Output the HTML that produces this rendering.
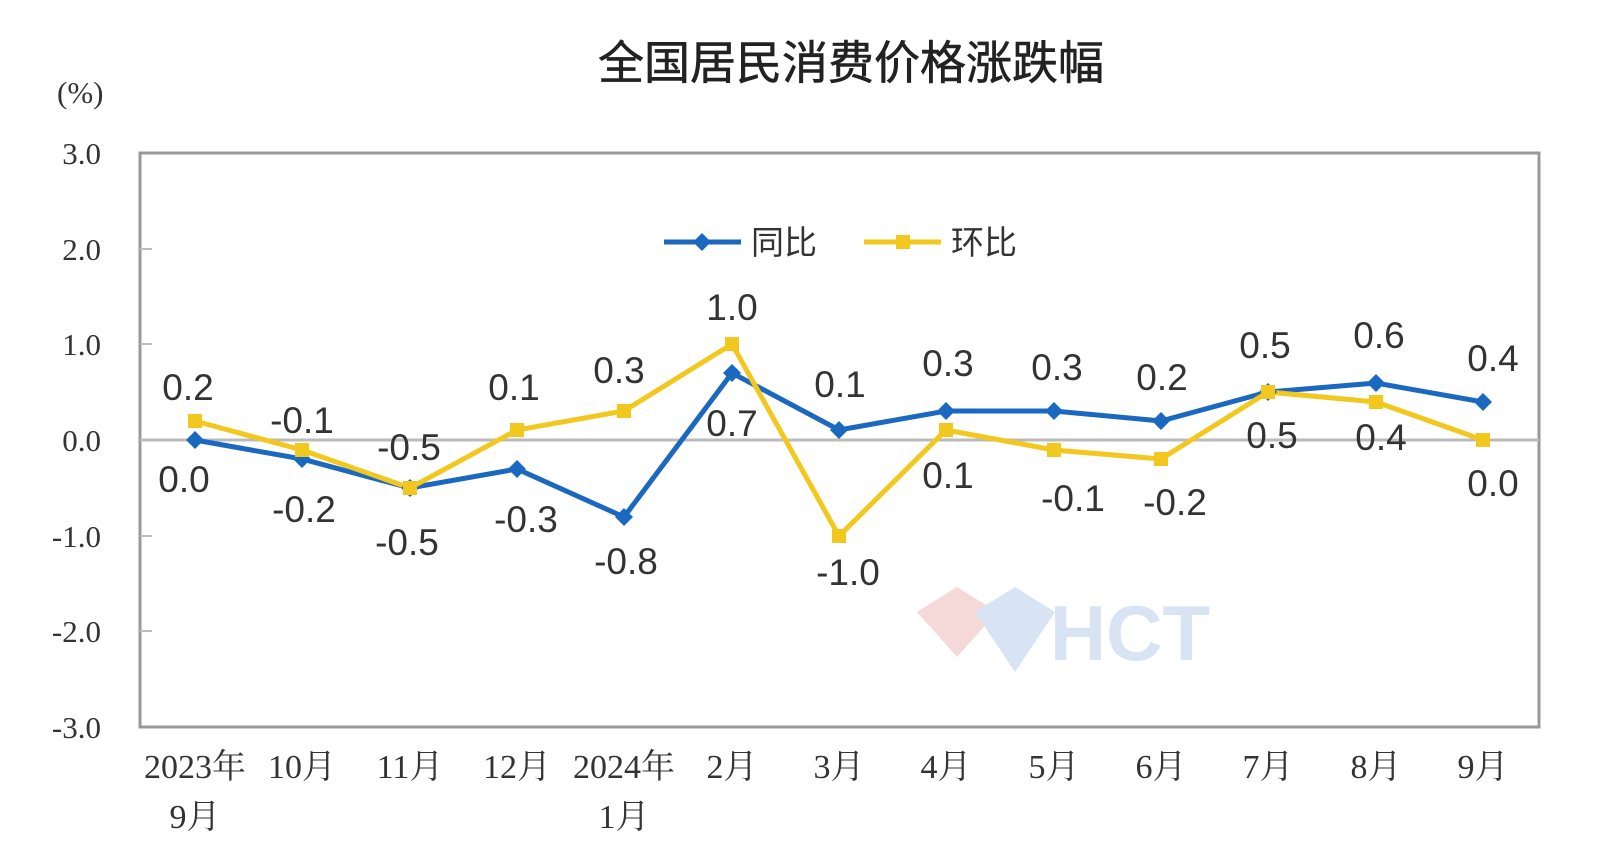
<!DOCTYPE html><html><head><meta charset="utf-8"><style>body{margin:0;background:#fff}</style></head><body>
<svg width="1600" height="862" xmlns="http://www.w3.org/2000/svg">
<text x="851" y="79" font-family="Liberation Sans,'Noto Sans CJK SC',sans-serif" font-size="46" text-anchor="middle" fill="#222" stroke="#222" stroke-width="0.6">全国居民消费价格涨跌幅</text>
<text x="57" y="103" font-family="Liberation Serif,serif" font-size="31" fill="#333">(%)</text>
<g font-family="Liberation Serif,serif" font-size="31" fill="#333" text-anchor="end">
<text x="101" y="164">3.0</text><text x="101" y="260">2.0</text><text x="101" y="355">1.0</text><text x="101" y="451">0.0</text><text x="101" y="547">-1.0</text><text x="101" y="642">-2.0</text><text x="101" y="738">-3.0</text></g>
<rect x="140" y="153" width="1399" height="574" fill="none" stroke="#999" stroke-width="3"/>
<line x1="140" y1="440" x2="1539" y2="440" stroke="#bbb" stroke-width="3"/>
<g stroke="#bbb" stroke-width="2"><line x1="140" y1="249" x2="152" y2="249"/><line x1="140" y1="344" x2="152" y2="344"/><line x1="140" y1="536" x2="152" y2="536"/><line x1="140" y1="631" x2="152" y2="631"/></g>
<polyline fill="none" stroke="#1a68c0" stroke-width="5" points="195,440 302,459 410,488 517,469 624,517 732,373 839,430 946,411 1054,411 1161,421 1268,392 1376,383 1483,402"/>
<polyline fill="none" stroke="#f2c81e" stroke-width="5" points="195,421 302,450 410,488 517,430 624,411 732,344 839,536 946,430 1054,450 1161,459 1268,392 1376,402 1483,440"/>
<g fill="#1a68c0">
<path d="M195,431l9,9-9,9-9-9z"/><path d="M302,450l9,9-9,9-9-9z"/><path d="M410,479l9,9-9,9-9-9z"/><path d="M517,460l9,9-9,9-9-9z"/><path d="M624,508l9,9-9,9-9-9z"/><path d="M732,364l9,9-9,9-9-9z"/><path d="M839,421l9,9-9,9-9-9z"/><path d="M946,402l9,9-9,9-9-9z"/><path d="M1054,402l9,9-9,9-9-9z"/><path d="M1161,412l9,9-9,9-9-9z"/><path d="M1268,383l9,9-9,9-9-9z"/><path d="M1376,374l9,9-9,9-9-9z"/><path d="M1483,393l9,9-9,9-9-9z"/></g>
<g fill="#f2c81e">
<rect x="188" y="414" width="14" height="14"/><rect x="295" y="443" width="14" height="14"/><rect x="403" y="481" width="14" height="14"/><rect x="510" y="423" width="14" height="14"/><rect x="617" y="404" width="14" height="14"/><rect x="725" y="337" width="14" height="14"/><rect x="832" y="529" width="14" height="14"/><rect x="939" y="423" width="14" height="14"/><rect x="1047" y="443" width="14" height="14"/><rect x="1154" y="452" width="14" height="14"/><rect x="1261" y="385" width="14" height="14"/><rect x="1369" y="395" width="14" height="14"/><rect x="1476" y="433" width="14" height="14"/></g>
<g font-family="Liberation Sans,sans-serif" font-size="37" fill="#333" text-anchor="middle">
<text x="188" y="400">0.2</text><text x="302" y="433">-0.1</text><text x="409" y="460">-0.5</text><text x="514" y="400">0.1</text><text x="619" y="383">0.3</text><text x="732" y="320">1.0</text><text x="840" y="397">0.1</text><text x="948" y="376">0.3</text><text x="1057" y="380">0.3</text><text x="1162" y="390">0.2</text><text x="1265" y="358">0.5</text><text x="1379" y="348">0.6</text><text x="1493" y="371">0.4</text>
<text x="184" y="492">0.0</text><text x="304" y="522">-0.2</text><text x="407" y="555">-0.5</text><text x="526" y="532">-0.3</text><text x="626" y="574">-0.8</text><text x="732" y="436">0.7</text><text x="848" y="585">-1.0</text><text x="948" y="488">0.1</text><text x="1073" y="511">-0.1</text><text x="1175" y="515">-0.2</text><text x="1272" y="448">0.5</text><text x="1381" y="450">0.4</text><text x="1493" y="496">0.0</text></g>
<line x1="664" y1="242" x2="741" y2="242" stroke="#1a68c0" stroke-width="5"/><path d="M702,233l9,9-9,9-9-9z" fill="#1a68c0"/>
<text x="751" y="254" font-family="Liberation Sans,'Noto Sans CJK SC',sans-serif" font-size="33" fill="#333">同比</text>
<line x1="864" y1="242" x2="941" y2="242" stroke="#f2c81e" stroke-width="5"/><rect x="896" y="235" width="14" height="14" fill="#f2c81e"/>
<text x="951" y="254" font-family="Liberation Sans,'Noto Sans CJK SC',sans-serif" font-size="33" fill="#333">环比</text>
<g opacity="0.3"><path d="M917,612l40-25 40,25-40,45z" fill="#e08080"/><path d="M975,612l40-25 40,25-40,60z" fill="#80a8d8"/><text x="1130" y="660" font-family="Liberation Sans,sans-serif" font-weight="bold" font-size="78" fill="#80a8d8" text-anchor="middle">HCT</text></g>
<g font-family="Liberation Serif,'Noto Serif CJK SC',sans-serif" font-size="34" fill="#333" text-anchor="middle">
<text x="195" y="778">2023年</text><text x="195" y="828">9月</text><text x="302" y="778">10月</text><text x="410" y="778">11月</text><text x="517" y="778">12月</text><text x="624" y="778">2024年</text><text x="624" y="828">1月</text><text x="732" y="778">2月</text><text x="839" y="778">3月</text><text x="946" y="778">4月</text><text x="1054" y="778">5月</text><text x="1161" y="778">6月</text><text x="1268" y="778">7月</text><text x="1376" y="778">8月</text><text x="1483" y="778">9月</text></g>
</svg></body></html>
